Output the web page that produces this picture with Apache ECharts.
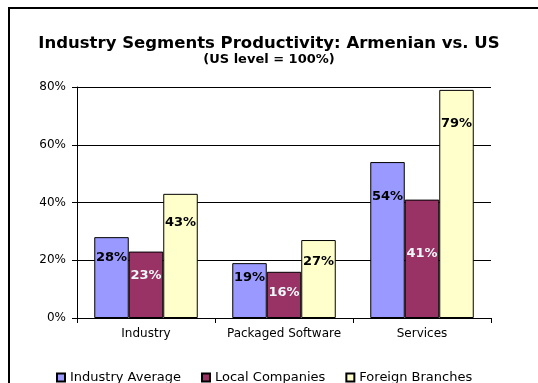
<!DOCTYPE html>
<html>
<head>
<meta charset="utf-8">
<script src="https://cdn.jsdelivr.net/npm/echarts@6/dist/echarts.min.js"></script>
<style>
  html, body { margin: 0; padding: 0; background: #fff; }
  #chart { width: 538px; height: 383px; }
</style>
</head>
<body>
<div id="chart"></div>
<script>
// Productivity by industry segment, percent of the US level
const categories = ['Industry', 'Packaged Software', 'Services'];
const industryAverage = [28, 19, 54];
const localCompanies = [23, 16, 41];
const foreignBranches = [43, 27, 79];
const seriesNames = ['Industry Average', 'Local Companies', 'Foreign Branches'];
const yTicks = { min: 0, max: 80, interval: 20 };

// Where each value label sits inside its bar (fraction of bar height from the top)
const labelDrop = [
  ['25%', '27%', '22%'],
  ['36%', '44%', '46%'],
  ['23%', '28%', '15%']
];

const FONT = 'DejaVu Sans';
const fills = ['#9999FF', '#993366', '#FFFFCC'];
const labelColors = ['#000000', '#eef8f8', '#000000'];

function makeSeries(idx, values) {
  return {
    name: seriesNames[idx],
    type: 'bar',
    barGap: '0%',
    barCategoryGap: '25%',
    itemStyle: { color: fills[idx], borderColor: '#000', borderWidth: 1 },
    data: values.map((v, i) => ({
      value: v,
      label: {
        show: true,
        position: ['50%', labelDrop[idx][i]],
        align: 'center',
        verticalAlign: 'middle',
        formatter: '{c}%',
        color: labelColors[idx],
        fontFamily: FONT,
        fontWeight: 'bold',
        fontSize: 13
      }
    }))
  };
}

const chart = echarts.init(document.getElementById('chart'), null, { renderer: 'canvas' });
chart.setOption({
  animation: false,
  backgroundColor: '#fff',
  title: [
    {
      text: 'Industry Segments Productivity: Armenian vs. US',
      left: 'center',
      top: 30,
      textStyle: { fontFamily: FONT, fontWeight: 'bold', fontSize: 16.5, color: '#000', lineHeight: 18 }
    },
    {
      text: '(US level = 100%)',
      left: 'center',
      top: 47,
      textStyle: { fontFamily: FONT, fontWeight: 'bold', fontSize: 13, color: '#000', lineHeight: 15 }
    }
  ],
  graphic: [
    {
      type: 'rect',
      shape: { x: 9, y: 8, width: 600, height: 400 },
      style: { fill: 'none', stroke: '#000', lineWidth: 2 },
      silent: true
    }
  ],
  legend: {
    left: 51,
    top: 366,
    itemWidth: 8,
    itemHeight: 8,
    itemGap: 20,
    icon: 'rect',
    textStyle: { fontFamily: FONT, fontSize: 13, color: '#000' },
    data: seriesNames
  },
  grid: { left: 77, right: 47, top: 87, bottom: 65, containLabel: false },
  xAxis: {
    type: 'category',
    data: categories,
    axisLine: { lineStyle: { color: '#000', width: 1 } },
    axisTick: { show: true, alignWithLabel: false, length: 5, lineStyle: { color: '#000' } },
    axisLabel: { color: '#000', fontFamily: FONT, fontSize: 12, margin: 10, interval: 0 }
  },
  yAxis: {
    type: 'value',
    min: yTicks.min,
    max: yTicks.max,
    interval: yTicks.interval,
    axisLine: { show: true, lineStyle: { color: '#000', width: 1 } },
    axisTick: { show: true, length: 5, lineStyle: { color: '#000' } },
    axisLabel: { color: '#000', fontFamily: FONT, fontSize: 12, margin: 11, formatter: '{value}%' },
    splitLine: { show: true, lineStyle: { color: '#000', width: 1 } }
  },
  series: [
    makeSeries(0, industryAverage),
    makeSeries(1, localCompanies),
    makeSeries(2, foreignBranches)
  ]
});
</script>
</body>
</html>
